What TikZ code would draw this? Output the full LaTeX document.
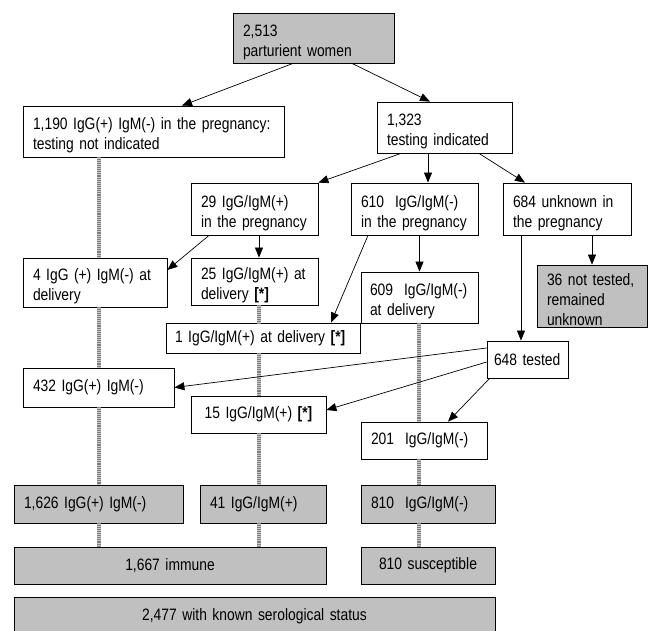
\documentclass[tikz,border=0pt]{standalone}
\usepackage{fontspec}
\setmainfont[FakeStretch=0.84,WordSpace=0.84]{Liberation Sans}
\usetikzlibrary{arrows.meta}
\definecolor{boxgray}{RGB}{192,192,192}
\begin{document}
\begin{tikzpicture}[x=1pt,y=-1pt,
  box/.style={draw, line width=0.8pt, fill=white, inner xsep=10pt, inner ysep=0pt, align=left,
    font=\fontsize{16.5}{20}\selectfont},
  gbox/.style={box, fill=boxgray},
  low/.style={execute at begin node={\rule{0pt}{20pt}}},
  arr/.style={-{Triangle[length=10pt,width=8pt]}, line width=0.7pt},
  gline/.style={line width=3.5pt, draw=black!50, dash pattern=on 1pt off 0.9pt,
    preaction={draw=black!22, line width=3.5pt}}]
\clip (0,0) rectangle (648,630);
\fill[white] (0,0) rectangle (648,630);
% nodes
\node[gbox, low, text width=141pt, minimum height=50pt] (top) at (313.5,38) {2,513\\parturient women};
\node[box, low, text width=241pt, minimum height=51pt] (n1190) at (153.5,131.5) {1,190 IgG(+) IgM(-) in the pregnancy:\\testing not indicated};
\node[box, low, text width=115pt, minimum height=51pt] (n1323) at (444.5,127.5) {1,323\\testing indicated};
\node[box, low, text width=107pt, minimum height=52pt] (n29) at (254.5,209) {29 IgG/IgM(+)\\in the pregnancy};
\node[box, low, text width=107pt, minimum height=52pt] (n610) at (414.5,209) {610\ \ IgG/IgM(-)\\in the pregnancy};
\node[box, low, text width=108pt, minimum height=52pt] (n684) at (567,209) {684 unknown in\\the pregnancy};
\node[box, low, text width=124pt, minimum height=49pt] (n4) at (95,282.5) {4 IgG (+) IgM(-) at\\delivery};
\node[box, low, text width=107pt, minimum height=47pt] (n25) at (254.5,281.5) {25 IgG/IgM(+) at\\delivery \textbf{[*]}};
\node[box, low, inner xsep=9pt, text width=99pt, minimum height=51pt] (n609) at (419.5,297.5) {609\ \ IgG/IgM(-)\\at delivery};
\node[gbox, low, text width=90pt, minimum height=62pt] (n36) at (592,296) {36 not tested,\\remained\\unknown};
\node[box, inner xsep=9pt, text width=176pt, minimum height=30pt] (n1) at (263,338) {1 IgG/IgM(+) at delivery \textbf{[*]}};
\node[box, inner xsep=7pt, text width=67pt, minimum height=37pt] (n648) at (527.5,359.5) {648 tested};
\node[box, text width=131pt, minimum height=39pt] (n432) at (98.5,387.5) {432 IgG(+) IgM(-)};
\node[box, align=center, text width=115pt, minimum height=37pt] (n15) at (258.5,414.5) {15 IgG/IgM(+) \textbf{[*]}};
\node[box, text width=106pt, minimum height=37pt] (n201) at (424,440.5) {201\ \ IgG/IgM(-)};
\node[gbox, text width=149pt, minimum height=38pt] (n1626) at (98.5,504) {1,626 IgG(+) IgM(-)};
\node[gbox, text width=106pt, minimum height=38pt] (n41) at (263,504) {41 IgG/IgM(+)};
\node[gbox, text width=114pt, minimum height=38pt] (n810a) at (428,504) {810\ \ IgG/IgM(-)};
\node[gbox, align=center, text width=292pt, minimum height=37pt] (n1667) at (170,565.5) {1,667 immune};
\node[gbox, align=center, text width=114pt, minimum height=37pt] (n810s) at (428,565.5) {810 susceptible};
\node[gbox, align=center, text width=461pt, minimum height=38pt] (n2477) at (254.5,616) {2,477 with known serological status};
% column coordinates
\coordinate (colA) at (99,0);
\coordinate (colB) at (259,0);
\coordinate (colC) at (419,0);
% gray connectors
\draw[gline] (n1190.south -| colA) -- (n4.north -| colA);
\draw[gline] (n4.south -| colA) -- (n432.north -| colA);
\draw[gline] (n432.south -| colA) -- (n1626.north -| colA);
\draw[gline] (n1626.south -| colA) -- (n1667.north -| colA);
\draw[gline] (n25.south -| colB) -- (n1.north -| colB);
\draw[gline] (n1.south -| colB) -- (n15.north -| colB);
\draw[gline] (n15.south -| colB) -- (n41.north -| colB);
\draw[gline] (n41.south -| colB) -- (n1667.north -| colB);
\draw[gline] (n609.south -| colC) -- (n201.north -| colC);
\draw[gline] (n201.south -| colC) -- (n810a.north -| colC);
\draw[gline] (n810a.south -| colC) -- (n810s.north -| colC);
% arrows
\draw[arr] ([xshift=-20.5pt]top.south) -- ([xshift=28.5pt]n1190.north);
\draw[arr] ([xshift=38.5pt]top.south) -- ([xshift=-14.5pt]n1323.north);
\draw[arr] ([xshift=-43.5pt]n1323.south) -- (n29.north east);
\draw[arr] ([xshift=-16.5pt]n1323.south) -- ([xshift=13.5pt]n610.north);
\draw[arr] ([xshift=34.5pt]n1323.south) -- ([xshift=-42pt]n684.north);
\draw[arr] ([xshift=-45.5pt]n29.south) -- ([yshift=12.5pt]n4.east);
\draw[arr] ([xshift=4.5pt]n29.south) -- ([xshift=4.5pt]n25.north);
\draw[arr] ([xshift=-46.5pt]n610.south) -- ([xshift=68pt]n1.north);
\draw[arr] (n610.south -| n609.north) -- (n609.north);
\draw[arr] (n684.south -| n36.north) -- (n36.north);
\draw[arr] ([xshift=-46pt]n684.south) -- ([xshift=-46pt]n684.south |- n648.north);
\draw[arr] ([yshift=11.5pt]n648.west) -- (n432.east);
\draw[arr] ([yshift=-2.5pt]n648.west) -- ([yshift=4.5pt]n15.east);
\draw[arr] ([xshift=3pt]n648.south west) -- ([xshift=24pt]n201.north);
\end{tikzpicture}
\end{document}
